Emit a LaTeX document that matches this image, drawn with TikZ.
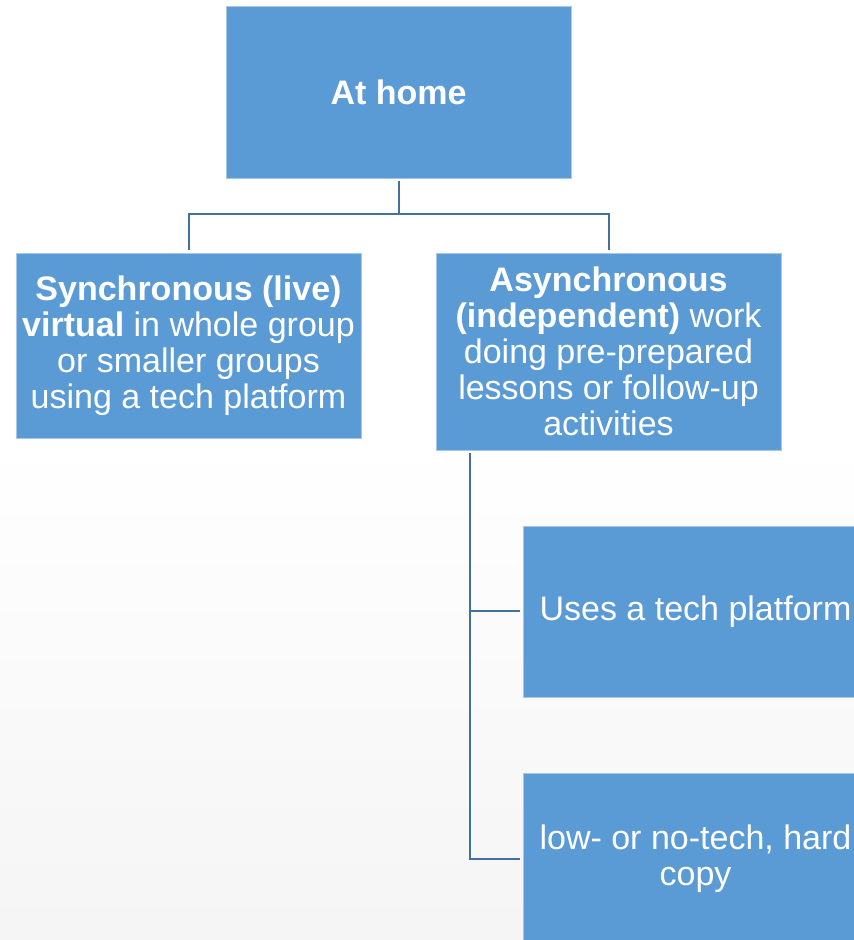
\documentclass[tikz,border=0pt]{standalone}
\usepackage{fontspec}
\setmainfont{Liberation Sans}
\usetikzlibrary{positioning}

\definecolor{boxblue}{HTML}{5B9BD5}
\definecolor{linkblue}{HTML}{41719C}

\begin{document}
\begin{tikzpicture}
    [
        x=1pt, y=1pt,
        plan box/.style = {
            fill=boxblue, draw=boxblue!55!white, line width=0.8pt,
            text=white, align=center, inner sep=2pt,
            minimum width=345pt,
            font=\fontsize{34}{36}\selectfont
        },
        link/.style = {
            draw=linkblue, line width=2pt, shorten <=3pt, shorten >=2.5pt
        },
    ]
    \useasboundingbox (0,0) rectangle (854,940);
    \clip (0,0) rectangle (854,940);
    \fill[white] (0,0) rectangle (854,940);
    \shade[top color=white, bottom color=black!4] (0,0) rectangle (854,500);

    \node[plan box, minimum height=172pt] (home) at (398.5,848) {\textbf{At home}};
    \node[plan box, minimum height=185pt] (sync) at (188.5,594.5)
        {\textbf{Synchronous (live)}\\\textbf{virtual} in whole group\\or smaller groups\\using a tech platform};
    \node[plan box, minimum height=197pt] (async) at (608.5,588.5)
        {\textbf{Asynchronous}\\\textbf{(independent)} work\\doing pre-prepared\\lessons or follow-up\\activities};
    \node[plan box, minimum height=171pt] (tech) at (695.5,328.5) {Uses a tech platform};
    \node[plan box, minimum height=172pt] (lowtech) at (695.5,81)
        {low- or no-tech, hard\\copy};

    %\draw[help lines] (0,0) grid[step=50] (854,940);
    \draw[link] (home.south) -- ++(0,-36) -| (sync.north);
    \draw[link] (home.south) -- ++(0,-36) -| (async.north);
    \draw[link] ([xshift=34pt]async.south west) |- (tech.west);
    \draw[link] ([xshift=34pt]async.south west) |- (lowtech.west);
\end{tikzpicture}
\end{document}
